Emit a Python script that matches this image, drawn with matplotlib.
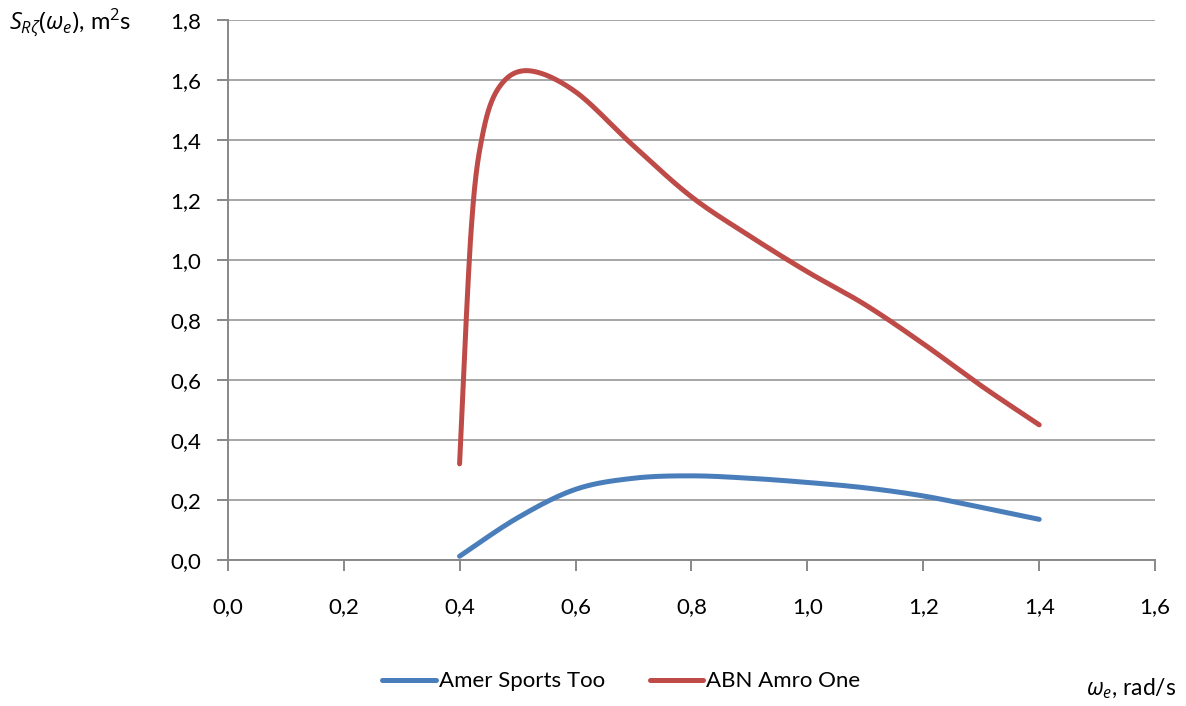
import numpy as np
import matplotlib.pyplot as plt

plt.rcParams['font.family'] = ['Lato', 'DejaVu Sans']
plt.rcParams['mathtext.fontset'] = 'custom'
plt.rcParams['mathtext.rm'] = 'Open Sans'
plt.rcParams['mathtext.it'] = 'Open Sans:italic'

# values
amer_x = [0.40, 0.50, 0.60, 0.70, 0.80, 0.90, 1.00, 1.10, 1.20, 1.30, 1.40]
amer_y = [0.012, 0.14, 0.235, 0.272, 0.28, 0.272, 0.258, 0.24, 0.213, 0.175, 0.135]

abn_x = [0.40, 0.42, 0.44, 0.47, 0.52, 0.60, 0.70, 0.80, 0.90, 1.00, 1.10, 1.20, 1.30, 1.40]
abn_y = [0.32, 1.10, 1.42, 1.58, 1.63, 1.56, 1.38, 1.21, 1.08, 0.96, 0.85, 0.72, 0.58, 0.45]

xticks = [0.0, 0.2, 0.4, 0.6, 0.8, 1.0, 1.2, 1.4, 1.6]
yticks = [0.0, 0.2, 0.4, 0.6, 0.8, 1.0, 1.2, 1.4, 1.6, 1.8]


def smooth(x, y, n=30):
    # excel-like smoothed line: bezier with control points from neighbours
    p = np.column_stack([x, y])
    p = np.vstack([p[0], p, p[-1]])
    out = []
    t = np.linspace(0, 1, n)[:, None]
    for i in range(1, len(p) - 2):
        p0, p3 = p[i], p[i + 1]
        c1 = p0 + (p[i + 1] - p[i - 1]) / 6
        c2 = p3 - (p[i + 2] - p[i]) / 6
        seg = (1 - t) ** 3 * p0 + 3 * (1 - t) ** 2 * t * c1 + 3 * (1 - t) * t ** 2 * c2 + t ** 3 * p3
        out.append(seg)
    s = np.vstack(out)
    return s[:, 0], s[:, 1]


fig = plt.figure(figsize=(11.86, 7.06), dpi=100)
ax = fig.add_axes([0.192, 0.207, 0.782, 0.765])

grey = '#888888'
ax.set_xlim(0, 1.6)
ax.set_ylim(0, 1.8)
ax.set_xticks(xticks)
ax.set_yticks(yticks)
ax.set_xticklabels([('%.1f' % v).replace('.', ',') for v in xticks])
ax.set_yticklabels([('%.1f' % v).replace('.', ',') for v in yticks])
ax.grid(axis='y', color='#a6a6a6', linewidth=1.4)
ax.set_axisbelow(True)
for s in ['top', 'right']:
    ax.spines[s].set_visible(False)
for s in ['left', 'bottom']:
    ax.spines[s].set_color(grey)
    ax.spines[s].set_linewidth(1.4)
ax.tick_params(axis='x', length=8, width=1.4, color=grey, pad=19, labelsize=16)
ax.tick_params(axis='y', length=8, width=1.4, color=grey, pad=11, labelsize=16)

bx, by = smooth(amer_x, amer_y)
rx, ry = smooth(abn_x, abn_y)
ax.plot(bx, by, color='#4a7ebb', lw=3.6, solid_capstyle='round', label='Amer Sports Too', clip_on=False)
ax.plot(rx, ry, color='#be4b48', lw=3.6, solid_capstyle='round', label='ABN Amro One', clip_on=False)

fig.text(0.008, 0.968, r'$S_{R\zeta}(\omega_e)$, m$^2$s', fontsize=17, va='center', ha='left')
fig.text(0.992, 0.024, r'$\omega_{e}$, rad/s', fontsize=16.5, va='center', ha='right')

fig.legend(loc='center', bbox_to_anchor=(0.524, 0.035), ncol=2, frameon=False,
           fontsize=16, handlelength=2.4, handletextpad=0.15, columnspacing=2.0)

fig.savefig('out.png', dpi=100)
